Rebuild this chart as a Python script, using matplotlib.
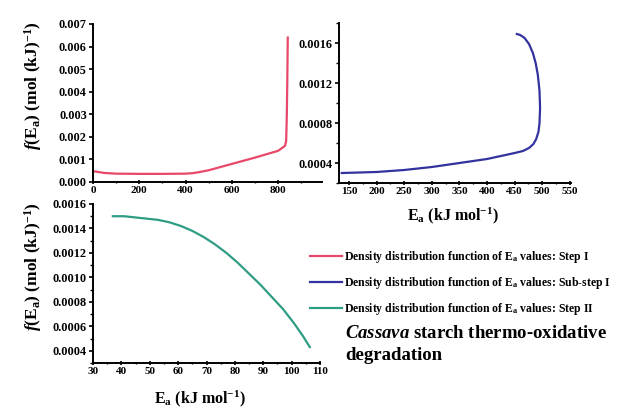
import numpy as np
import matplotlib
matplotlib.use("Agg")
import matplotlib.pyplot as plt
from matplotlib.ticker import MultipleLocator, FormatStrFormatter

plt.rcParams['font.family'] = 'Liberation Serif'
plt.rcParams['font.weight'] = 'bold'
plt.rcParams['mathtext.fontset'] = 'custom'
plt.rcParams['mathtext.rm'] = 'Liberation Serif:bold'
plt.rcParams['mathtext.bf'] = 'Liberation Serif:bold'
plt.rcParams['mathtext.it'] = 'Liberation Serif:italic:bold'

# Step I
step1_E = [0, 50, 100, 200, 300, 400, 430, 460, 500, 600, 700, 800, 830, 835, 838, 840, 842]
step1_f = [0.00048, 0.00040, 0.00037, 0.00036, 0.00036, 0.00037, 0.00039, 0.00044, 0.00052,
           0.00080, 0.00108, 0.00138, 0.00160, 0.00180, 0.00300, 0.00450, 0.00640]

# Sub-step I
sub1_E = [137, 200, 250, 300, 350, 400, 450, 465, 476, 484, 489, 493, 495, 496, 495, 492,
          488, 483, 476, 468, 460, 454]
sub1_f = [0.00030, 0.00031, 0.00033, 0.00036, 0.00040, 0.00044, 0.00050, 0.00052, 0.00055,
          0.00059, 0.00064, 0.00071, 0.00080, 0.00095, 0.00112, 0.00128, 0.00140, 0.00150,
          0.00159, 0.00165, 0.00168, 0.00169]

# Step II
step2_E = [37.0, 41, 45, 49, 53, 57, 61, 65, 69, 73, 77, 81, 85, 89, 93, 97, 101, 104, 106.4]
step2_f = [0.00150, 0.00150, 0.00149, 0.00148, 0.00147, 0.00145, 0.00142, 0.00138, 0.00133,
           0.00127, 0.00120, 0.00112, 0.00103, 0.00094, 0.00084, 0.00074, 0.00062, 0.00052,
           0.00043]

legend_labels = [
    "Density distribution function of E$_\\mathrm{a}$ values: Step I",
    "Density distribution function of E$_\\mathrm{a}$ values: Sub-step I",
    "Density distribution function of E$_\\mathrm{a}$ values: Step II",
]

red = '#e8486a'
blue = '#33329e'
green = '#2f9c84'

W, H = 638, 412
fig = plt.figure(figsize=(6.38, 4.12), dpi=100)
ax1 = fig.add_axes([93 / W, 1 - 182 / H, 229 / W, 158 / H])
ax2 = fig.add_axes([339 / W, 1 - 183 / H, 232 / W, 160 / H])
ax3 = fig.add_axes([93 / W, 1 - 363 / H, 227 / W, 159 / H])

l1, = ax1.plot(step1_E, step1_f, color=red, lw=1.6)
l2, = ax2.plot(sub1_E, sub1_f, color=blue, lw=1.6)
l3, = ax3.plot(step2_E, step2_f, color=green, lw=1.6)

ax1.set_xlim(0, 990)
ax1.set_ylim(0, 0.007)
ax1.set_xticks([0, 200, 400, 600, 800])
ax1.xaxis.set_minor_locator(MultipleLocator(100))
ax1.yaxis.set_major_locator(MultipleLocator(0.001))
ax1.yaxis.set_major_formatter(FormatStrFormatter('%.3f'))

ax2.set_xlim(132, 552)
ax2.set_ylim(0.0002, 0.0018)
ax2.set_xticks(np.arange(150, 551, 50))
ax2.xaxis.set_minor_locator(MultipleLocator(25))
ax2.set_yticks([0.0004, 0.0008, 0.0012, 0.0016])
ax2.yaxis.set_minor_locator(MultipleLocator(0.0002))
ax2.yaxis.set_major_formatter(FormatStrFormatter('%.4f'))

ax3.set_xlim(30, 110)
ax3.set_ylim(0.0003, 0.0016)
ax3.xaxis.set_major_locator(MultipleLocator(10))
ax3.xaxis.set_minor_locator(MultipleLocator(5))
ax3.set_yticks(np.arange(0.0004, 0.00161, 0.0002))
ax3.yaxis.set_minor_locator(MultipleLocator(0.0001))
ax3.yaxis.set_major_formatter(FormatStrFormatter('%.4f'))

for ax in (ax1, ax2, ax3):
    for s in ('top', 'right'):
        ax.spines[s].set_visible(False)
    for s in ('left', 'bottom'):
        ax.spines[s].set_linewidth(1.4)
    ax.tick_params(axis='both', which='major', width=1.2, length=3, pad=1.5)
    ax.tick_params(axis='x', which='major', labelsize=8)
    ax.tick_params(axis='y', which='major', labelsize=8.8)
    ax.tick_params(axis='both', which='minor', width=1.0, length=2)
    ax.tick_params(axis='x', which='both', direction='inout')
    ax.patch.set_alpha(0)

ylab = "$\\it{f}$(E$_\\mathrm{a}$) (mol (kJ)$^{-1}$)"
xlab = "E$_\\mathrm{a}$ (kJ mol$^{-1}$)"
fig.text(33 / W, 1 - 86 / H, ylab, rotation=90, ha='center', va='center', fontsize=12.5)
fig.text(33 / W, 1 - 267 / H, ylab, rotation=90, ha='center', va='center', fontsize=12.5)
fig.text(453 / W, 1 - 216 / H, xlab, ha='center', va='center', fontsize=11.5)
fig.text(200 / W, 1 - 399 / H, xlab, ha='center', va='center', fontsize=11.5)

fig.legend([l1, l2, l3], legend_labels, loc='upper left', bbox_to_anchor=(310 / W, 1 - 249 / H),
           frameon=False, fontsize=8.5, handlelength=2.7, handletextpad=0.15, labelspacing=0.85,
           borderpad=0, borderaxespad=0)

fig.text(345 / W, 1 - 333 / H, "$\\it{Cassava}$ starch thermo-oxidative", ha='left', va='center', fontsize=13.5)
fig.text(345 / W, 1 - 355 / H, "degradation", ha='left', va='center', fontsize=13.5)

fig.savefig("out.png", dpi=100)
